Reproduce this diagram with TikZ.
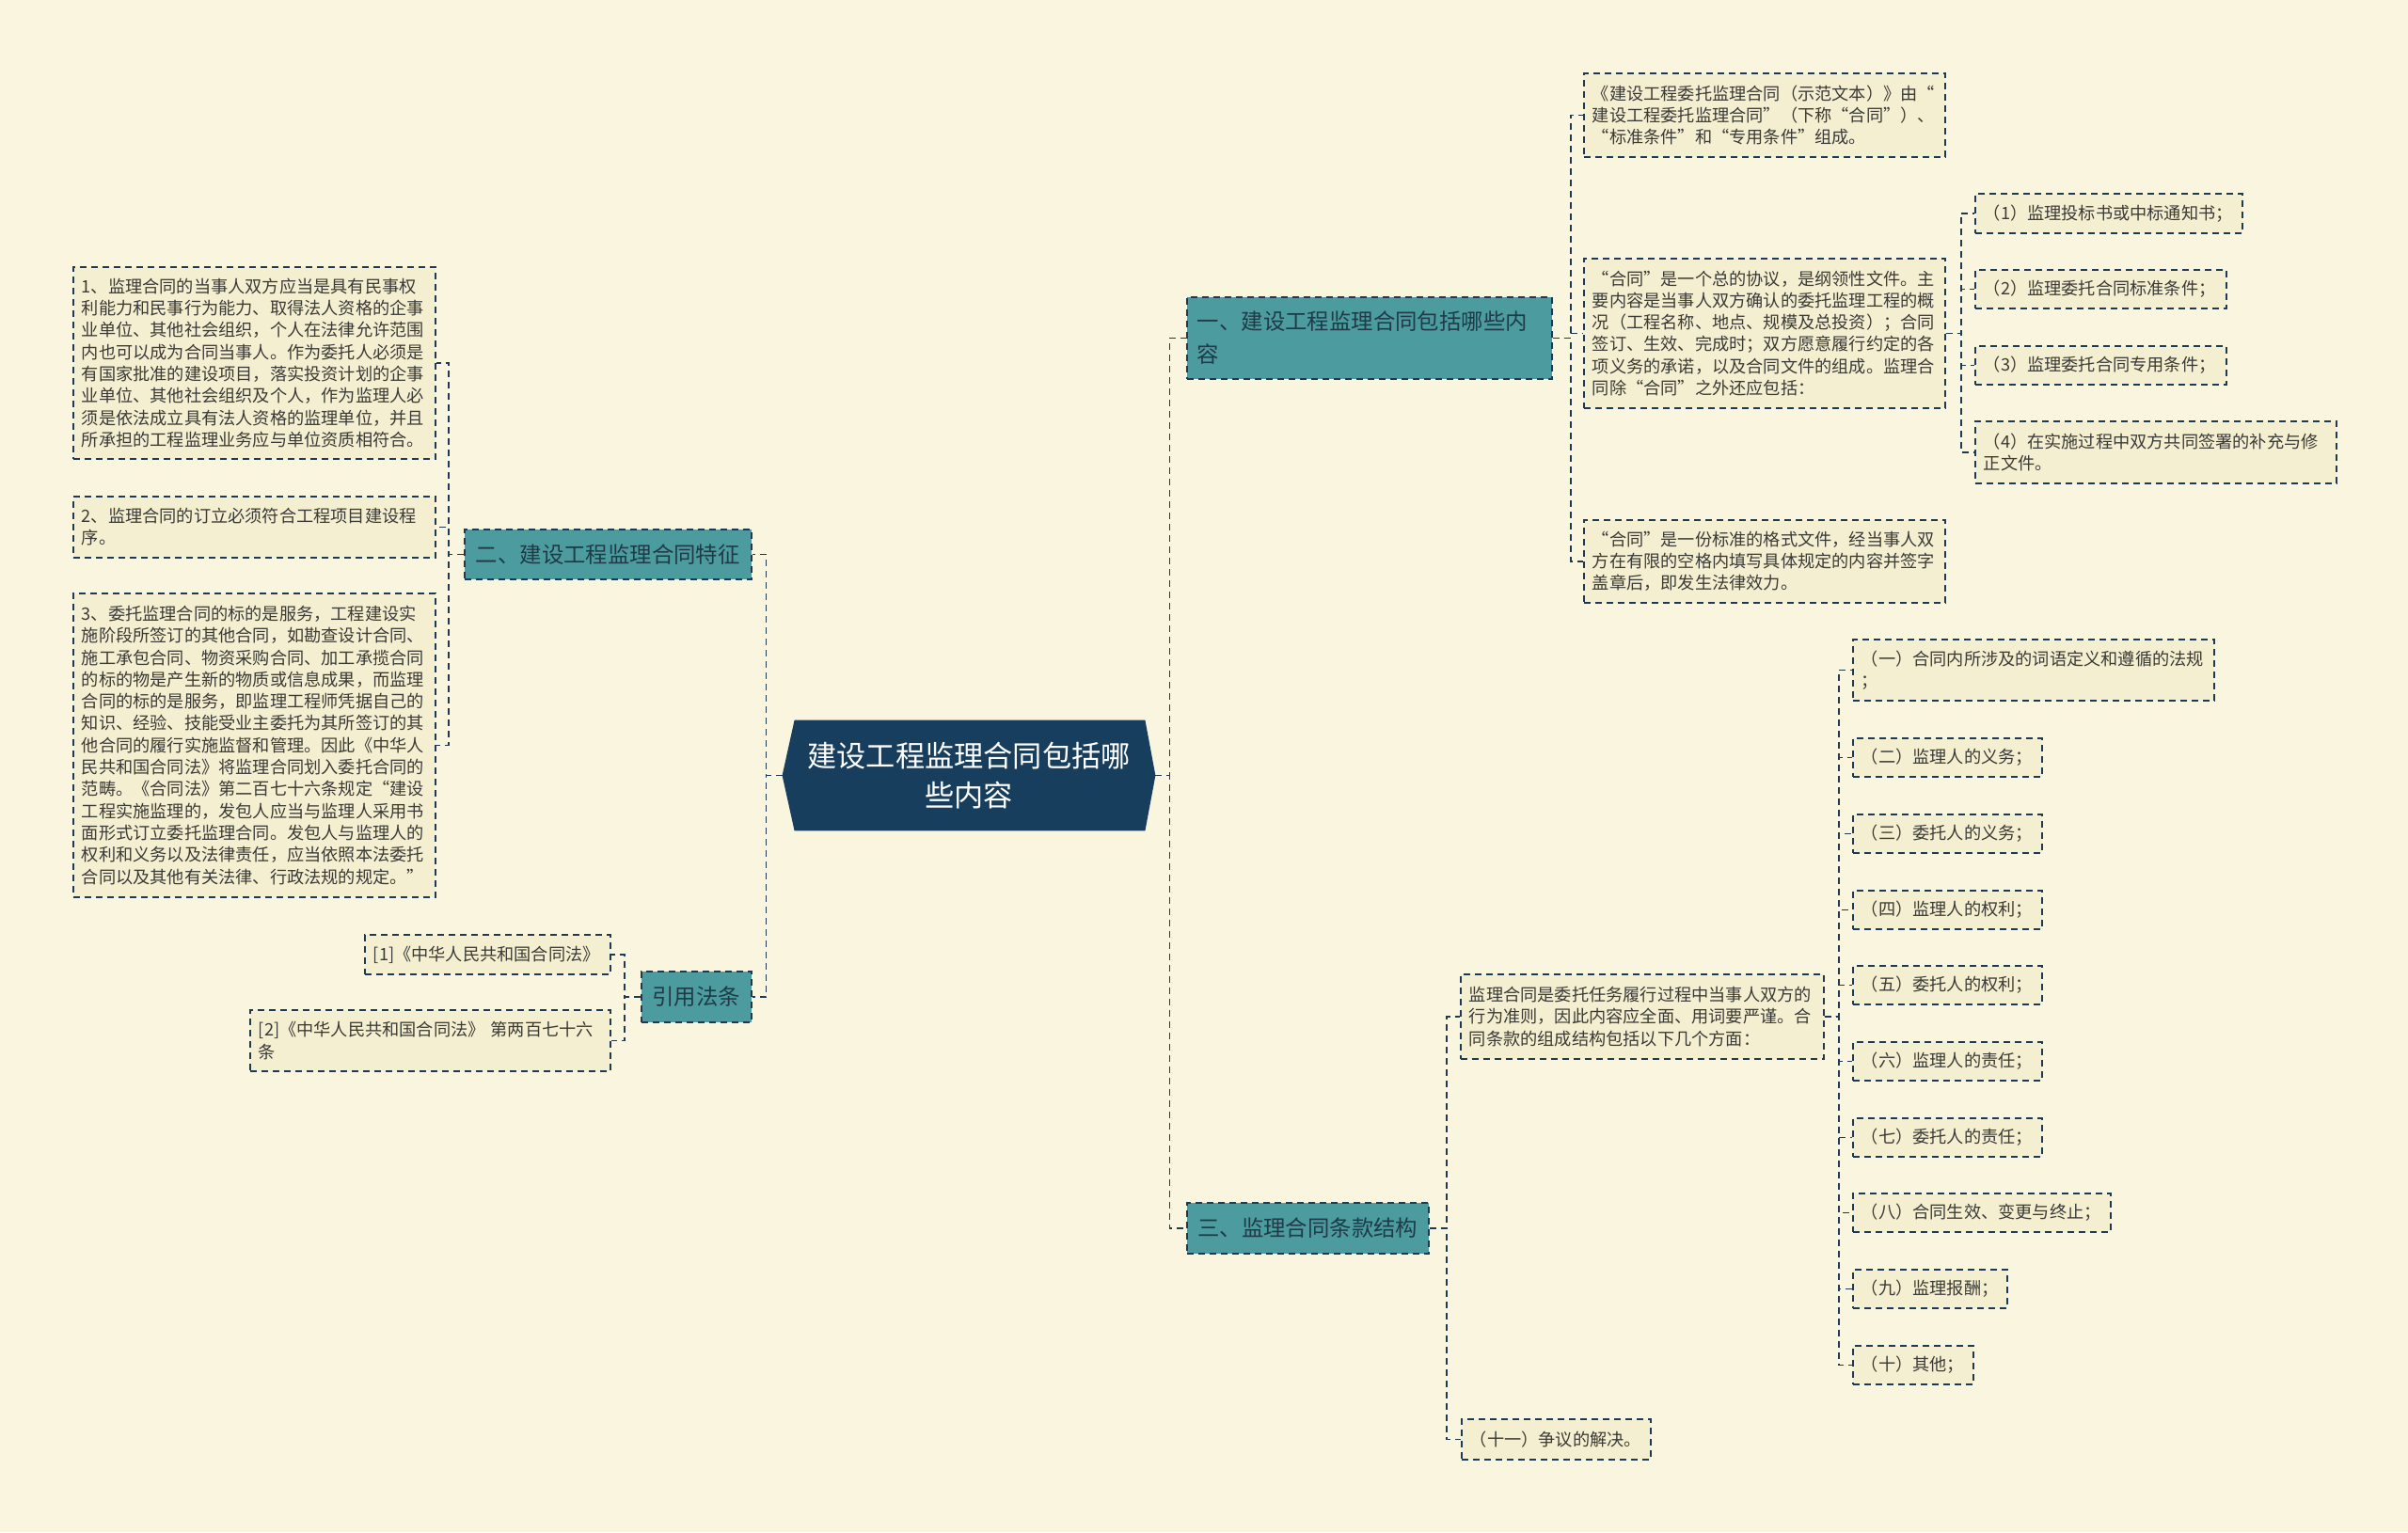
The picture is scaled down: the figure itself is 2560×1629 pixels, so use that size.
\documentclass[tikz,border=0pt]{standalone}
\usepackage{fontspec}
\setmainfont{Noto Sans CJK SC}
\usetikzlibrary{backgrounds}
\definecolor{bgcol}{HTML}{FAF5DF}
\definecolor{leaffill}{HTML}{F5EFD1}
\definecolor{leaftext}{HTML}{3A3A36}
\definecolor{branchfill}{HTML}{4C9B9E}
\definecolor{branchtext}{HTML}{1F3B47}
\definecolor{rootfill}{HTML}{183E5E}
\definecolor{linecol}{HTML}{1E3A52}
\tikzset{
  dashline/.style={dash pattern=on 3.5pt off 2.5pt, line width=0.85pt},
  link/.style={draw=linecol, dashline},
  leaf/.style={draw=linecol, dashline, fill=leaffill, text=leaftext, align=left,
    anchor=north west, inner xsep=4.5pt, inner ysep=0pt,
    font=\fontsize{9.1}{11.65}\selectfont},
  branch/.style={draw=linecol, dashline, fill=branchfill, text=branchtext,
    anchor=north west, inner xsep=5.5pt, inner ysep=0pt,
    font=\fontsize{11.7}{17.5}\selectfont},
}
\begin{document}
\begin{tikzpicture}[x=0.5pt,y=-0.5pt]
\begin{scope}[on background layer]
  \fill[bgcol] (0,0) rectangle (2560,1629);
\end{scope}
% centre
\node[text=white, align=center, text width=175pt, minimum width=198pt, minimum height=58.5pt,
  inner sep=0pt, font=\fontsize{15.6}{20.8}\selectfont] (root) at (1030,824.5)
  {建设工程监理合同包括哪\\些内容};
\begin{scope}[on background layer]
  \fill[rootfill] ([xshift=6.5pt]root.north west) -- ([xshift=-5.5pt]root.north east) -- (root.east)
    -- ([xshift=-5.5pt]root.south east) -- ([xshift=6.5pt]root.south west) -- (root.west) -- cycle;
\end{scope}
% branches
\node[branch, align=left, text width=183pt, minimum height=43.5pt] (one) at (1261,315) {一、建设工程监理合同包括哪些内\\容};
\node[branch, minimum width=152.5pt, minimum height=26.5pt] (two) at (493,562) {二、建设工程监理合同特征};
\node[branch, minimum width=58.5pt, minimum height=27pt] (cite) at (681,1032) {引用法条};
\node[branch, minimum width=128.5pt, minimum height=27pt] (three) at (1261,1278) {三、监理合同条款结构};
% left leaves
\node[leaf, text width=183.5pt, minimum height=102pt] (L1) at (77,283) {1、监理合同的当事人双方应当是具有民事权\\利能力和民事行为能力、取得法人资格的企事\\业单位、其他社会组织，个人在法律允许范围\\内也可以成为合同当事人。作为委托人必须是\\有国家批准的建设项目，落实投资计划的企事\\业单位、其他社会组织及个人，作为监理人必\\须是依法成立具有法人资格的监理单位，并且\\所承担的工程监理业务应与单位资质相符合。};
\node[leaf, text width=183.5pt, minimum height=32.5pt] (L2) at (77,527) {2、监理合同的订立必须符合工程项目建设程\\序。};
\node[leaf, text width=183.5pt, minimum height=161.5pt] (L3) at (77,630) {3、委托监理合同的标的是服务，工程建设实\\施阶段所签订的其他合同，如勘查设计合同、\\施工承包合同、物资采购合同、加工承揽合同\\的标的物是产生新的物质或信息成果，而监理\\合同的标的是服务，即监理工程师凭据自己的\\知识、经验、技能受业主委托为其所签订的其\\他合同的履行实施监督和管理。因此《中华人\\民共和国合同法》将监理合同划入委托合同的\\范畴。《合同法》第二百七十六条规定“建设\\工程实施监理的，发包人应当与监理人采用书\\面形式订立委托监理合同。发包人与监理人的\\权利和义务以及法律责任，应当依照本法委托\\合同以及其他有关法律、行政法规的规定。”};
\node[leaf, text width=121.5pt, minimum height=21pt] (R1) at (387,993) {[1]《中华人民共和国合同法》};
\node[leaf, text width=182.5pt, minimum height=32.5pt] (R2) at (265,1073) {[2]《中华人民共和国合同法》 第两百七十六\\条};
% right leaves
\node[leaf, text width=183pt, minimum height=44.5pt] (A1) at (1683,77) {《建设工程委托监理合同（示范文本）》由“\\建设工程委托监理合同”（下称“合同”）、\\“标准条件”和“专用条件”组成。};
\node[leaf, text width=183pt, minimum height=79.5pt] (A2) at (1683,274) {“合同”是一个总的协议，是纲领性文件。主\\要内容是当事人双方确认的委托监理工程的概\\况（工程名称、地点、规模及总投资）；合同\\签订、生效、完成时；双方愿意履行约定的各\\项义务的承诺，以及合同文件的组成。监理合\\同除“合同”之外还应包括：};
\node[leaf, text width=183pt, minimum height=44pt] (A3) at (1683,552) {“合同”是一份标准的格式文件，经当事人双\\方在有限的空格内填写具体规定的内容并签字\\盖章后，即发生法律效力。};
\node[leaf, text width=133pt, minimum height=21pt] (B1) at (2099,205) {（1）监理投标书或中标通知书；};
\node[leaf, text width=124.5pt, minimum height=20.5pt] (B2) at (2099,286) {（2）监理委托合同标准条件；};
\node[leaf, text width=124.5pt, minimum height=20.5pt] (B3) at (2099,367) {（3）监理委托合同专用条件；};
\node[leaf, text width=183pt, minimum height=33pt] (B4) at (2099,447) {（4）在实施过程中双方共同签署的补充与修\\正文件。};
\node[leaf, text width=184pt, minimum height=45pt] (C0) at (1552,1035) {监理合同是委托任务履行过程中当事人双方的\\行为准则，因此内容应全面、用词要严谨。合\\同条款的组成结构包括以下几个方面：};
\node[leaf, text width=91.5pt, minimum height=21.5pt] (C11) at (1553,1508) {（十一）争议的解决。};
\node[leaf, text width=183pt, minimum height=32.5pt] (D1) at (1969,679) {（一）合同内所涉及的词语定义和遵循的法规\\；};
\node[leaf, text width=91.5pt, minimum height=20.5pt] (D2) at (1969,784) {（二）监理人的义务；};
\node[leaf, text width=91.5pt, minimum height=20.5pt] (D3) at (1969,865) {（三）委托人的义务；};
\node[leaf, text width=91.5pt, minimum height=20.5pt] (D4) at (1969,946) {（四）监理人的权利；};
\node[leaf, text width=91.5pt, minimum height=20.5pt] (D5) at (1969,1026) {（五）委托人的权利；};
\node[leaf, text width=91.5pt, minimum height=20.5pt] (D6) at (1969,1107) {（六）监理人的责任；};
\node[leaf, text width=91.5pt, minimum height=20.5pt] (D7) at (1969,1188) {（七）委托人的责任；};
\node[leaf, text width=128pt, minimum height=20.5pt] (D8) at (1969,1268) {（八）合同生效、变更与终止；};
\node[leaf, text width=73pt, minimum height=20.5pt] (D9) at (1969,1349) {（九）监理报酬；};
\node[leaf, text width=55pt, minimum height=20.5pt] (D10) at (1969,1430) {（十）其他；};
% connectors
\draw[link] (root.east) -- ++(15,0) |- (one.west);
\draw[link] (root.east) -- ++(15,0) |- (three.west);
\draw[link] (root.west) -- ++(-17,0) |- (two.east);
\draw[link] (root.west) -- ++(-17,0) |- (cite.east);
\draw[link] (two.west) -- ++(-16,0) |- (L1.east);
\draw[link] (two.west) -- ++(-16,0) |- (L2.east);
\draw[link] (two.west) -- ++(-16,0) |- (L3.east);
\draw[link] (cite.west) -- ++(-17,0) |- (R1.east);
\draw[link] (cite.west) -- ++(-17,0) |- (R2.east);
\draw[link] (one.east) -- ++(19,0) |- (A1.west);
\draw[link] (one.east) -- ++(19,0) |- (A2.west);
\draw[link] (one.east) -- ++(19,0) |- (A3.west);
\draw[link] (A2.east) -- ++(16,0) |- (B1.west);
\draw[link] (A2.east) -- ++(16,0) |- (B2.west);
\draw[link] (A2.east) -- ++(16,0) |- (B3.west);
\draw[link] (A2.east) -- ++(16,0) |- (B4.west);
\draw[link] (three.east) -- ++(18,0) |- (C0.west);
\draw[link] (three.east) -- ++(18,0) |- (C11.west);
\draw[link] (C0.east) -- ++(15,0) |- (D1.west);
\draw[link] (C0.east) -- ++(15,0) |- (D2.west);
\draw[link] (C0.east) -- ++(15,0) |- (D3.west);
\draw[link] (C0.east) -- ++(15,0) |- (D4.west);
\draw[link] (C0.east) -- ++(15,0) |- (D5.west);
\draw[link] (C0.east) -- ++(15,0) |- (D6.west);
\draw[link] (C0.east) -- ++(15,0) |- (D7.west);
\draw[link] (C0.east) -- ++(15,0) |- (D8.west);
\draw[link] (C0.east) -- ++(15,0) |- (D9.west);
\draw[link] (C0.east) -- ++(15,0) |- (D10.west);
\end{tikzpicture}
\end{document}
